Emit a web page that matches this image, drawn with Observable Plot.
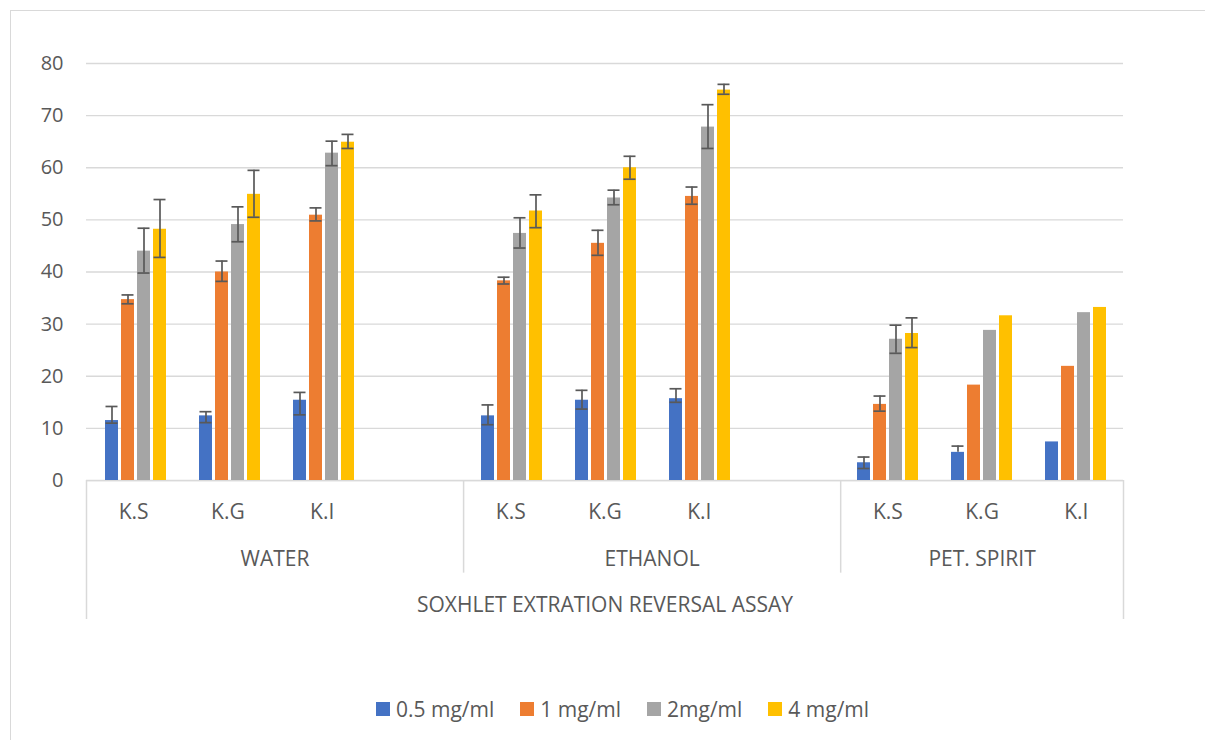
<!DOCTYPE html>
<html>
<head>
<meta charset="utf-8">
<script src="https://cdn.jsdelivr.net/npm/d3@7"></script>
<script src="https://cdn.jsdelivr.net/npm/@observablehq/plot@0.6"></script>
<style>
  html, body { margin: 0; padding: 0; background: #fff; }
  body { width: 1205px; height: 740px; overflow: hidden; position: relative; font-family: "Open Sans", sans-serif; }
  #frame { position: absolute; left: 10px; top: 10px; width: 2000px; height: 2000px;
           border-top: 1px solid #d9d9d9; border-left: 1.5px solid #d9d9d9; }
  #grid, #bars, #cats { position: absolute; left: 0; }
  #grid, #bars { top: 0; }
  #cats { top: 480px; }
  #legend { position: absolute; left: 376px; top: 692px; }
  .leg-swatches-wrap { min-height: 34px !important; flex-wrap: nowrap !important; }
  .leg-swatch { margin-right: 26px !important; color: #595959; font-size: 21px; font-family: "Open Sans", sans-serif; }
  .leg-swatch > svg { margin-right: 6px !important; }
</style>
</head>
<body>
<div id="frame"></div>
<div id="grid"></div>
<div id="bars"></div>
<div id="cats"></div>
<div id="legend"></div>
<script>
// Solvents (outer category level) and extracts (inner level)
const groups = ["WATER", "ETHANOL", "PET. SPIRIT"];
const extracts = ["K.S", "K.G", "K.I"];
const axisTitle = "SOXHLET EXTRATION REVERSAL ASSAY";

// Concentration series and their colours
const series = ["0.5 mg/ml", "1 mg/ml", "2mg/ml", "4 mg/ml"];
const colors = ["#4472C4", "#ED7D31", "#A5A5A5", "#FFC000"];

// Values per series, ordered WATER K.S, K.G, K.I, ETHANOL K.S, K.G, K.I, PET. SPIRIT K.S, K.G, K.I
const val05 = [11.5, 12.4, 15.4, 12.4, 15.4, 15.7, 3.4, 5.4, 7.4];
const val1  = [34.7, 40.0, 50.9, 38.3, 45.5, 54.5, 14.6, 18.3, 21.9];
const val2  = [44.0, 49.1, 62.8, 47.4, 54.2, 67.8, 27.1, 28.8, 32.2];
const val4  = [48.2, 54.9, 64.9, 51.7, 60.0, 74.9, 28.2, 31.6, 33.2];

// Error bar ends (lower / upper); null where no error bar is shown
const lo05 = [11.0, 11.1, 12.6, 10.7, 13.7, 15.0, 2.3, 5.4, null];
const hi05 = [14.2, 13.2, 16.9, 14.5, 17.3, 17.6, 4.5, 6.6, null];
const lo1  = [33.9, 38.2, 49.8, 37.7, 43.2, 53.0, 13.3, null, null];
const hi1  = [35.6, 42.1, 52.3, 39.0, 48.0, 56.3, 16.2, null, null];
const lo2  = [39.8, 45.8, 60.4, 44.6, 52.9, 63.7, 24.4, null, null];
const hi2  = [48.4, 52.5, 65.1, 50.4, 55.7, 72.1, 29.8, null, null];
const lo4  = [42.8, 50.5, 63.7, 48.5, 57.8, 74.1, 25.5, null, null];
const hi4  = [53.9, 59.5, 66.4, 54.8, 62.2, 76.0, 31.2, null, null];

const yTicks = [0, 10, 20, 30, 40, 50, 60, 70, 80];

// ---- category slots: one per extract, with a blank slot between solvents
const slots = [];
const groupSpans = [];
groups.forEach((g, gi) => {
  const start = slots.length;
  extracts.forEach(e => slots.push({key: g + "|" + e, group: g, label: e}));
  if (gi < groups.length - 1) slots.push({key: g + "|", group: g, label: ""});
  groupSpans.push({group: g, start, end: slots.length});
});
const slotKeys = slots.map(s => s.key);
const nSlots = slots.length;

const valueArrays = [val05, val1, val2, val4];
const loArrays = [lo05, lo1, lo2, lo4];
const hiArrays = [hi05, hi1, hi2, hi4];

const rows = [];
groups.forEach((g, gi) => extracts.forEach((e, ei) => {
  const i = gi * extracts.length + ei;
  series.forEach((s, si) => rows.push({
    slot: g + "|" + e, series: s,
    value: valueArrays[si][i], lo: loArrays[si][i], hi: hiArrays[si][i]
  }));
}));
const errRows = rows.filter(d => d.hi != null);

const textColor = "#595959";
const gridColor = "#d9d9d9";
const errColor = "#595959";
const font = "Open Sans, sans-serif";

const WIDTH = 1205, M_LEFT = 86, M_RIGHT = 82, M_TOP = 63;
const PLOT_H = 510, M_BOTTOM = 30; // value axis runs from y = 63 to y = 480

// ---- background: horizontal gridlines and value axis
const gridPlot = Plot.plot({
  width: WIDTH, height: PLOT_H,
  marginLeft: M_LEFT, marginRight: M_RIGHT, marginTop: M_TOP, marginBottom: M_BOTTOM,
  style: {fontFamily: font, fontSize: "20px", color: textColor, background: "transparent"},
  x: {domain: [0, nSlots], axis: null},
  y: {domain: [0, 80], axis: null},
  marks: [
    Plot.ruleY(yTicks, {stroke: gridColor, strokeWidth: 1.3}),
    Plot.axisY(yTicks, {tickSize: 0, tickPadding: 23, fontSize: 20, fill: textColor})
  ]
});
document.getElementById("grid").append(gridPlot);

// ---- clustered bars with error bars, one facet per category slot
const barsPlot = Plot.plot({
  width: WIDTH, height: PLOT_H,
  marginLeft: M_LEFT, marginRight: M_RIGHT, marginTop: M_TOP, marginBottom: M_BOTTOM,
  style: {fontFamily: font, fontSize: "20px", color: textColor, background: "transparent"},
  fx: {domain: slotKeys, padding: 0, axis: null},
  x: {domain: series, paddingInner: 0.206, paddingOuter: 0.876, axis: null},
  y: {domain: [0, 80], axis: null},
  color: {domain: series, range: colors},
  marks: [
    Plot.barY(rows, {fx: "slot", x: "series", y: "value", fill: "series"}),
    Plot.ruleX(errRows, {fx: "slot", x: "series", y1: "lo", y2: "hi", stroke: errColor, strokeWidth: 1.7}),
    Plot.tickY(errRows, {fx: "slot", x: "series", y: "hi", stroke: errColor, strokeWidth: 1.7, insetLeft: 0.5, insetRight: 0.5}),
    Plot.tickY(errRows.filter(d => d.lo < d.value), {fx: "slot", x: "series", y: "lo", stroke: errColor, strokeWidth: 1.7, insetLeft: 0.5, insetRight: 0.5})
  ]
});
document.getElementById("bars").append(barsPlot);

// ---- multi-level category axis under the bars (x in slot units, y in label rows)
const boundaries = groupSpans.map((sp, i) => ({x: sp.start, depth: i === 0 ? 3 : 2}));
boundaries.push({x: nSlots, depth: 3});
const subLabels = slots.map((s, i) => ({x: i + 0.5, text: s.label})).filter(d => d.text);
const groupLabels = groupSpans.map(sp => ({x: (sp.start + sp.end) / 2, text: sp.group}));
const rowOffset = 0.69;

const catsPlot = Plot.plot({
  width: WIDTH, height: 140,
  marginLeft: M_LEFT, marginRight: M_RIGHT, marginTop: 0, marginBottom: 1,
  style: {fontFamily: font, fontSize: "21px", color: textColor, background: "transparent"},
  x: {domain: [0, nSlots], axis: null},
  y: {domain: [3, 0], axis: null},
  marks: [
    Plot.ruleY([0], {stroke: gridColor, strokeWidth: 1.5}),
    Plot.ruleX(boundaries, {x: "x", y1: 0, y2: "depth", stroke: gridColor, strokeWidth: 1.5}),
    Plot.text(subLabels, {x: "x", y: () => 0 + rowOffset, text: "text", fill: textColor, fontSize: 21}),
    Plot.text(groupLabels, {x: "x", y: () => 1 + rowOffset, text: "text", fill: textColor, fontSize: 21}),
    Plot.text([axisTitle], {x: nSlots / 2, y: 2 + rowOffset, text: d => d, fill: textColor, fontSize: 21})
  ]
});
document.getElementById("cats").append(catsPlot);

// ---- legend
const legend = Plot.legend({
  color: {domain: series, range: colors},
  legend: "swatches",
  swatchSize: 14,
  className: "leg"
});
document.getElementById("legend").append(legend);
</script>
</body>
</html>
